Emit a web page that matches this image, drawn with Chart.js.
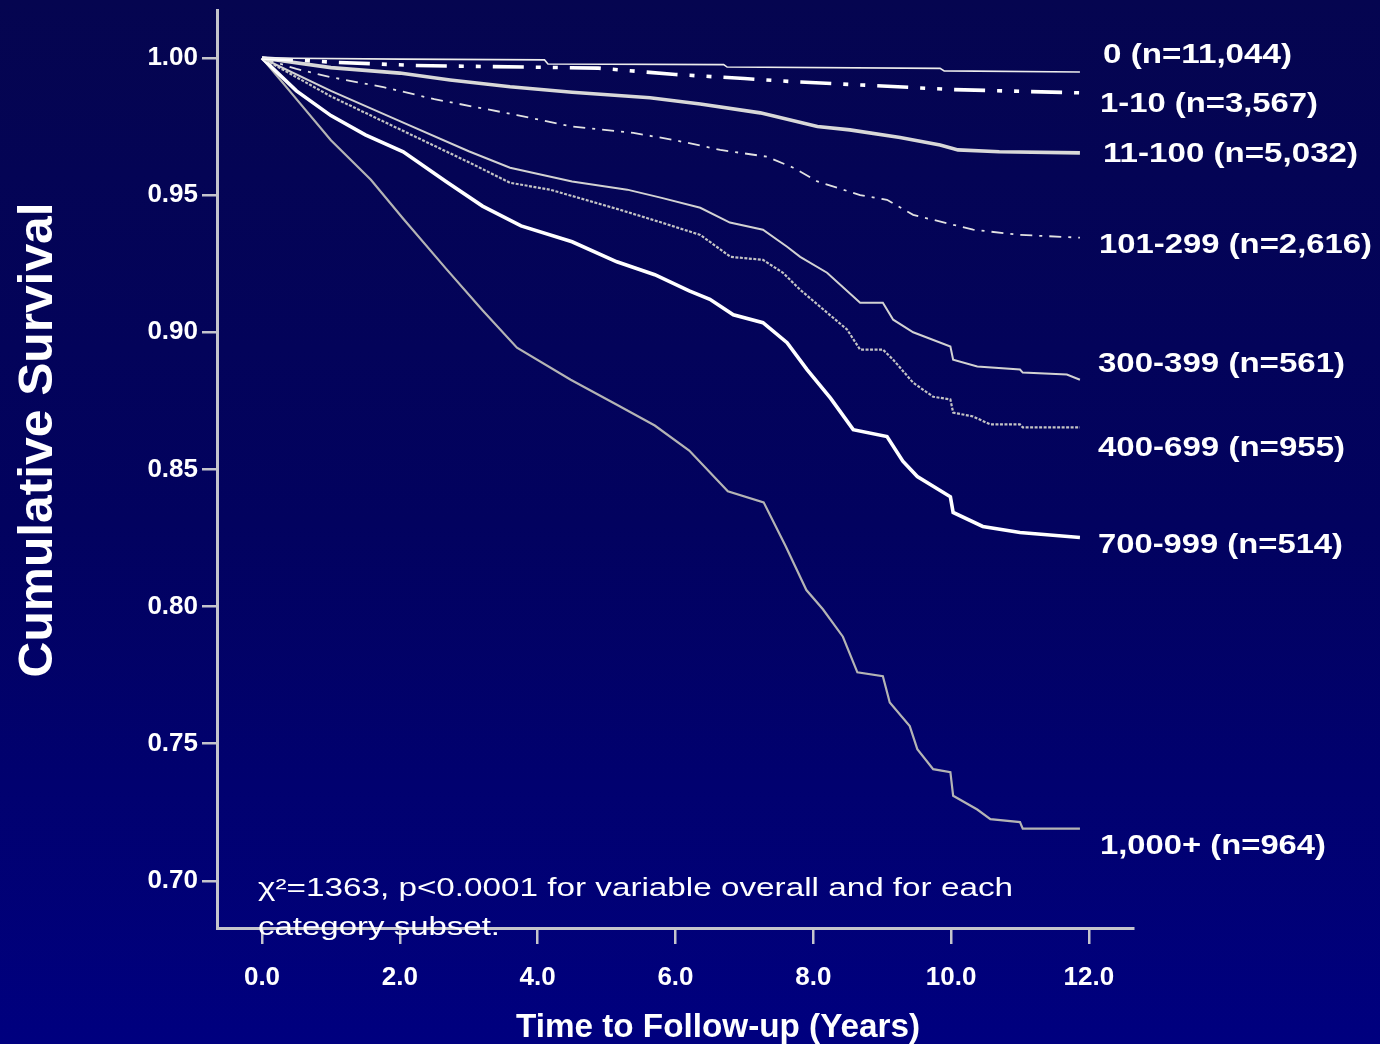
<!DOCTYPE html>
<html>
<head>
<meta charset="utf-8">
<script src="https://cdn.jsdelivr.net/npm/chart.js@4.4.1/dist/chart.umd.min.js"></script>
<style>
html,body{margin:0;padding:0;background:#03035a;overflow:hidden}
#wrap{position:relative;width:1380px;height:1044px}
canvas{display:block}
</style>
</head>
<body>
<div id="wrap"><canvas id="c" width="1380" height="1044"></canvas></div>
<script>
// ---------------- DATA ----------------
const xTicks = [0, 2, 4, 6, 8, 10, 12];
const yTicks = [0.70, 0.75, 0.80, 0.85, 0.90, 0.95, 1.00];
const groupLabels = ['0 (n=11,044)', '1-10 (n=3,567)', '11-100 (n=5,032)', '101-299 (n=2,616)',
                     '300-399 (n=561)', '400-699 (n=955)', '700-999 (n=514)', '1,000+ (n=964)'];
const xTitle = 'Time to Follow-up (Years)';
const yTitle = 'Cumulative Survival';
const noteLines = ['\u03C7\u00B2=1363, p<0.0001 for variable overall and for each', 'category subset.'];

const t0 = [0, 2, 4.1, 4.15, 6.7, 6.75, 9.84, 9.9, 11.87];
const s0 = [1, 0.9996, 0.9993, 0.9978, 0.9976, 0.9967, 0.9962, 0.9953, 0.9949];

const t1 = [0, 1, 2.2, 2.7, 4.88, 6, 7, 7.75, 9, 10, 11.87];
const s1 = [1, 0.9985, 0.9973, 0.9971, 0.9963, 0.994, 0.9925, 0.9913, 0.9898, 0.9885, 0.9873];

const t11 = [0, 1, 2, 2.73, 3.6, 4.5, 5.63, 6.36, 7.23, 8.06, 8.53, 9.26, 9.84, 10.1, 10.7, 11.87];
const s11 = [1, 0.9965, 0.9945, 0.992, 0.9895, 0.9875, 0.9855, 0.9832, 0.980, 0.975, 0.9738, 0.971, 0.9683, 0.9665, 0.9658, 0.9654];

const t101 = [0, 0.5, 1, 1.76, 2.5, 3.7, 4.5, 5.39, 6, 6.65, 7.33, 7.71, 8.06, 8.68, 9.07, 9.45, 9.74, 10.32, 11.0, 11.87];
const s101 = [1, 0.996, 0.993, 0.9894, 0.985, 0.9792, 0.975, 0.9727, 0.970, 0.9665, 0.964, 0.960, 0.955, 0.950, 0.9483, 0.9428, 0.941, 0.9374, 0.9355, 0.9345];

const t300 = [0, 1, 2, 3, 3.6, 4.5, 5.3, 5.8, 6.36, 6.79, 7.27, 7.62, 7.81, 8.2, 8.68, 9.01, 9.16, 9.45, 9.99, 10.03, 10.38, 11.0, 11.04, 11.68, 11.87];
const s300 = [1, 0.988, 0.977, 0.966, 0.960, 0.955, 0.952, 0.949, 0.9454, 0.940, 0.9374, 0.9312, 0.9275, 0.9217, 0.9108, 0.9108, 0.9046, 0.900, 0.8948, 0.890, 0.8875, 0.8864, 0.8853, 0.8846, 0.8827];

const t400 = [0, 1, 2, 3, 3.6, 4.18, 5.15, 5.8, 6.36, 6.8, 7.27, 7.56, 7.81, 8.1, 8.49, 8.68, 9.01, 9.16, 9.45, 9.74, 9.99, 10.03, 10.32, 10.57, 11.0, 11.04, 11.87];
const s400 = [1, 0.986, 0.974, 0.962, 0.9545, 0.952, 0.945, 0.940, 0.9355, 0.9275, 0.9264, 0.9217, 0.9155, 0.9093, 0.901, 0.8937, 0.8937, 0.890, 0.8816, 0.8765, 0.8755, 0.8707, 0.8693, 0.8664, 0.8664, 0.8653, 0.8653];

const t700 = [0, 0.5, 1, 1.5, 2.05, 2.67, 3.2, 3.76, 4.5, 5.15, 5.7, 6.2, 6.5, 6.84, 7.27, 7.62, 7.91, 8.25, 8.58, 9.07, 9.3, 9.51, 9.99, 10.03, 10.46, 11.0, 11.87];
const s700 = [1, 0.988, 0.979, 0.972, 0.9658, 0.955, 0.946, 0.9388, 0.933, 0.9257, 0.921, 0.9151, 0.912, 0.9064, 0.9035, 0.8962, 0.8864, 0.876, 0.8645, 0.862, 0.853, 0.8474, 0.840, 0.8343, 0.8292, 0.827, 0.8252];

const t1000 = [0, 0.5, 1, 1.58, 2.05, 2.67, 3.2, 3.7, 4.48, 5.15, 5.7, 6.2, 6.76, 7.28, 7.6, 7.9, 8.14, 8.43, 8.64, 9.01, 9.11, 9.4, 9.51, 9.74, 9.99, 10.03, 10.38, 10.57, 11.0, 11.04, 11.87];
const s1000 = [1, 0.985, 0.970, 0.9556, 0.9414, 0.9232, 0.908, 0.8944, 0.8827, 0.8736, 0.866, 0.8569, 0.842, 0.838, 0.822, 0.806, 0.799, 0.789, 0.776, 0.7746, 0.765, 0.7564, 0.748, 0.7407, 0.7396, 0.731, 0.726, 0.7225, 0.7214, 0.719, 0.719];

// ---------------- STYLE / LAYOUT ----------------
const FONT = '"Liberation Sans", Arial, Helvetica, sans-serif';
const AXIS = '#c4c4cc';
const seriesStyle = [
  {t: t0,    s: s0,    color: '#ececec', width: 1.6, dash: []},
  {t: t1,    s: s1,    color: '#ffffff', width: 3.6, dash: [31, 12, 5, 12, 5, 12]},
  {t: t11,   s: s11,   color: '#d8d8d8', width: 3.6, dash: []},
  {t: t101,  s: s101,  color: '#e2e2e2', width: 1.8, dash: [12, 7, 3, 7]},
  {t: t300,  s: s300,  color: '#d2d2d2', width: 2.0, dash: []},
  {t: t400,  s: s400,  color: '#c4c4c4', width: 2.2, dash: [3, 1.5]},
  {t: t700,  s: s700,  color: '#ffffff', width: 3.6, dash: []},
  {t: t1000, s: s1000, color: '#b4b4b4', width: 2.2, dash: []}
];
// label placement (pixels): left x, baseline y, target width
const labelBoxes = [
  [1103, 63, 189], [1100, 112, 218], [1103, 162, 255], [1099, 253, 273],
  [1098, 372, 247], [1098, 456, 247], [1098, 553, 245], [1100, 854, 226]
];

const datasets = seriesStyle.map((st, i) => ({
  label: groupLabels[i],
  data: st.t.map((t, k) => ({x: t, y: st.s[k]})),
  borderColor: st.color,
  borderWidth: st.width,
  borderDash: st.dash,
  borderCapStyle: 'butt',
  borderJoinStyle: 'miter',
  pointRadius: 0,
  tension: 0,
  fill: false
}));

function drawStretched(ctx, text, x, y, font, width, align) {
  ctx.font = font;
  const w = ctx.measureText(text).width;
  const sx = width ? width / w : 1;
  ctx.save();
  ctx.translate(x, y);
  ctx.scale(sx, 1);
  ctx.textAlign = align || 'left';
  ctx.fillText(text, 0, 0);
  ctx.restore();
}

const bgPlugin = {
  id: 'bg',
  beforeDraw(chart) {
    const {ctx, width, height} = chart;
    const g = ctx.createLinearGradient(0, 0, 0, height);
    g.addColorStop(0, '#050550');
    g.addColorStop(0.5, '#02025f');
    g.addColorStop(1, '#00007f');
    ctx.save();
    ctx.fillStyle = g;
    ctx.fillRect(0, 0, width, height);
    ctx.restore();
  }
};

const textPlugin = {
  id: 'texts',
  afterDraw(chart) {
    const ctx = chart.ctx;
    ctx.save();
    ctx.fillStyle = '#ffffff';
    ctx.textBaseline = 'alphabetic';
    groupLabels.forEach((txt, i) => {
      const b = labelBoxes[i];
      drawStretched(ctx, txt, b[0], b[1], 'bold 27px ' + FONT, b[2], 'left');
    });
    drawStretched(ctx, noteLines[0], 258, 896, '25px ' + FONT, 755, 'left');
    drawStretched(ctx, noteLines[1], 258, 935, '25px ' + FONT, 242, 'left');
    drawStretched(ctx, xTitle, 718, 1037, 'bold 33px ' + FONT, 404, 'center');
    ctx.save();
    ctx.translate(52, 440);
    ctx.rotate(-Math.PI / 2);
    drawStretched(ctx, yTitle, 0, 0, 'bold 48px ' + FONT, 475, 'center');
    ctx.restore();
    ctx.restore();
  }
};

new Chart(document.getElementById('c'), {
  type: 'line',
  data: {datasets},
  plugins: [bgPlugin, textPlugin],
  options: {
    responsive: false,
    animation: false,
    devicePixelRatio: 1,
    layout: {padding: {left: 0, right: 247, top: 10, bottom: 0}},
    plugins: {legend: {display: false}, tooltip: {enabled: false}},
    scales: {
      x: {
        type: 'linear',
        min: -0.653, max: 12.64,
        afterBuildTicks: s => { s.ticks = xTicks.map(v => ({value: v})); },
        afterFit: s => { s.height = 116; s.paddingLeft = 0; s.paddingRight = 0; },
        ticks: {
          color: '#ffffff', autoSkip: false, maxRotation: 0, padding: 18,
          font: {family: FONT, size: 26, weight: 'bold'},
          callback: v => Number(v).toFixed(1)
        },
        grid: {drawOnChartArea: false, drawTicks: true, tickLength: 16, color: AXIS, lineWidth: 2.5},
        border: {display: true, color: AXIS, width: 3}
      },
      y: {
        type: 'linear',
        min: 0.6828, max: 1.0175,
        afterBuildTicks: s => { s.ticks = yTicks.map(v => ({value: v})); },
        afterFit: s => { s.width = 217; s.paddingTop = 0; s.paddingBottom = 0; },
        ticks: {
          color: '#ffffff', autoSkip: false, padding: 4,
          font: {family: FONT, size: 26, weight: 'bold'},
          callback: v => Number(v).toFixed(2)
        },
        grid: {drawOnChartArea: false, drawTicks: true, tickLength: 15, color: AXIS, lineWidth: 2.5},
        border: {display: true, color: AXIS, width: 3}
      }
    }
  }
});
</script>
</body>
</html>
